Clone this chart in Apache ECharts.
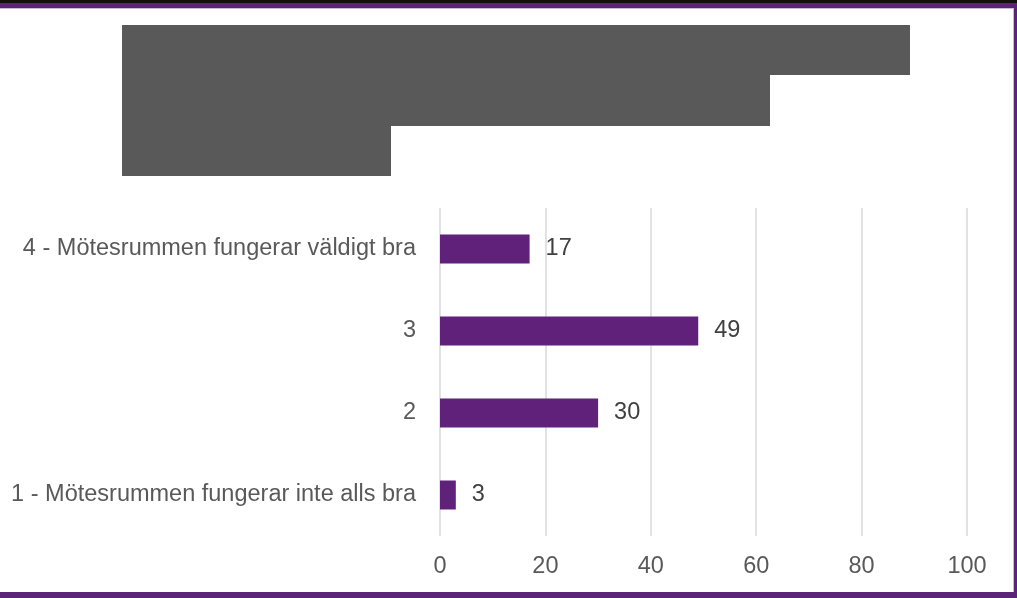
<!DOCTYPE html>
<html>
<head>
<meta charset="utf-8">
<script src="https://cdn.jsdelivr.net/npm/echarts@6/dist/echarts.min.js"></script>
<style>
  html, body { margin: 0; padding: 0; background: #ffffff; }
  #chart { width: 1017px; height: 598px; }
</style>
</head>
<body>
<div id="chart"></div>
<script>
// Survey answers, listed bottom-to-top as drawn on the category axis
const categories = [
  '1 - Mötesrummen fungerar inte alls bra',
  '2',
  '3',
  '4 - Mötesrummen fungerar väldigt bra'
];
const counts = [3, 30, 49, 17];
const xTicks = { min: 0, max: 100, interval: 20 };

const purple = '#5f2179';
const frame = '#5c2479';

const chart = echarts.init(document.getElementById('chart'), null, { renderer: 'canvas' });

chart.setOption({
  animation: false,
  backgroundColor: '#ffffff',
  textStyle: { fontFamily: 'Liberation Sans, Arial, sans-serif' },
  grid: { left: 440, right: 50, top: 208, bottom: 62, containLabel: false },
  xAxis: {
    type: 'value',
    min: xTicks.min,
    max: xTicks.max,
    interval: xTicks.interval,
    axisLine: { show: false },
    axisTick: { show: false },
    axisLabel: { color: '#595959', fontSize: 23.5, margin: 19 },
    splitLine: { show: true, lineStyle: { color: '#d9d9d9', width: 1.5 } }
  },
  yAxis: {
    type: 'category',
    data: categories,
    axisLine: { show: false },
    axisTick: { show: false },
    axisLabel: { color: '#595959', fontSize: 23.5, margin: 24, padding: [4, 0, 0, 0] }
  },
  series: [{
    type: 'bar',
    data: counts,
    barWidth: 29,
    itemStyle: { color: purple },
    label: {
      show: true,
      position: 'right',
      distance: 16,
      color: '#404040',
      fontSize: 23.5,
      padding: [4, 0, 0, 0]
    }
  }],
  graphic: [
    // heading blocks
    { type: 'rect', shape: { x: 122, y: 25, width: 788, height: 50 }, style: { fill: '#595959' } },
    { type: 'rect', shape: { x: 122, y: 75, width: 648, height: 51 }, style: { fill: '#595959' } },
    { type: 'rect', shape: { x: 122, y: 126, width: 269, height: 50 }, style: { fill: '#595959' } },
    // frame
    { type: 'rect', shape: { x: 0, y: 0, width: 1017, height: 3 }, style: { fill: '#111111' } },
    { type: 'rect', shape: { x: 0, y: 3, width: 1017, height: 5 }, style: { fill: frame } },
    { type: 'rect', shape: { x: 0, y: 8, width: 1013, height: 1 }, style: { fill: '#cdb8d8' } },
    { type: 'rect', shape: { x: 1013, y: 8, width: 1, height: 584 }, style: { fill: '#cdb8d8' } },
    { type: 'rect', shape: { x: 1014, y: 3, width: 3, height: 595 }, style: { fill: frame } },
    { type: 'rect', shape: { x: 0, y: 592, width: 1017, height: 6 }, style: { fill: frame } }
  ]
});
</script>
</body>
</html>
